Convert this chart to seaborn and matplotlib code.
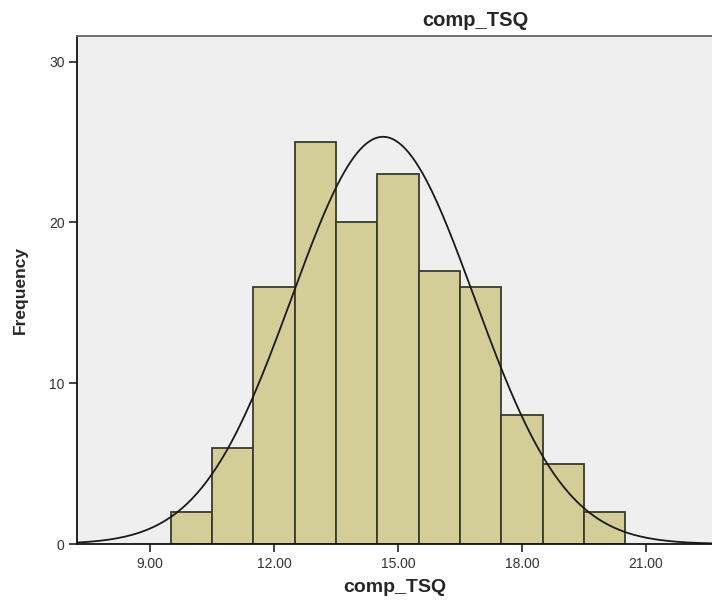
import numpy as np
import pandas as pd
import matplotlib
matplotlib.use("Agg")
import matplotlib.pyplot as plt
import seaborn as sns

# Histogram data (bin centres and frequencies)
bin_centers = [10, 11, 12, 13, 14, 15, 16, 17, 18, 19, 20]
counts = [2, 6, 16, 25, 20, 23, 17, 16, 8, 5, 2]
bin_edges = [9.5, 10.5, 11.5, 12.5, 13.5, 14.5, 15.5, 16.5, 17.5, 18.5, 19.5, 20.5]
# Fitted normal curve parameters
mean_val = 14.64
sd_val = 2.205
n_total = sum(counts)
bin_width = 1.0
x_ticks = [9, 12, 15, 18, 21]
x_tick_labels = ["9.00", "12.00", "15.00", "18.00", "21.00"]
y_ticks = [0, 10, 20, 30]

sns.set_theme(style="white")
plt.rcParams['font.family'] = ['Liberation Sans', 'DejaVu Sans']

fig = plt.figure(figsize=(7.12, 6.0), dpi=100)
ax = fig.add_axes([77/712, 1 - 544/600, 1 - 77/712, (544 - 36)/600])
ax.set_facecolor("#efefef")

df = pd.DataFrame({"x": bin_centers, "w": counts})
sns.histplot(data=df, x="x", weights="w", bins=bin_edges, ax=ax,
             color="#d3ce98", alpha=1.0, edgecolor="#3b3a2c", linewidth=1.3)

xs = np.linspace(7.0, 23.0, 400)
ys = n_total * bin_width / (sd_val * np.sqrt(2 * np.pi)) * np.exp(-0.5 * ((xs - mean_val) / sd_val) ** 2)
sns.lineplot(x=xs, y=ys, ax=ax, color="#1a1a1a", linewidth=1.3)

ax.set_xlim(7.234, 22.6)
ax.set_ylim(0, 31.6)
ax.set_xticks(x_ticks)
ax.set_xticklabels(x_tick_labels)
ax.set_yticks(y_ticks)
ax.tick_params(axis="both", which="major", labelsize=10, colors="#222222",
               length=6, width=1.2, direction="out", left=True, bottom=True, pad=3)
ax.tick_params(axis="x", labelcolor="#333333")
ax.tick_params(axis="y", labelcolor="#333333")

for s in ["left", "bottom"]:
    ax.spines[s].set_color("#111111")
    ax.spines[s].set_linewidth(1.3)
ax.spines["top"].set_color("#666666")
ax.spines["top"].set_linewidth(1.3)
ax.spines["right"].set_visible(False)

ax.set_xlabel("comp_TSQ", fontsize=14, fontweight="bold", labelpad=6)
ax.set_ylabel("Frequency", fontsize=12.5, fontweight="bold", labelpad=15)
fig.text(475/712, 1 - 20/600, "comp_TSQ", fontsize=14.5, fontweight="bold",
         ha="center", va="center")

fig.savefig("out.png", dpi=100, facecolor="white")
